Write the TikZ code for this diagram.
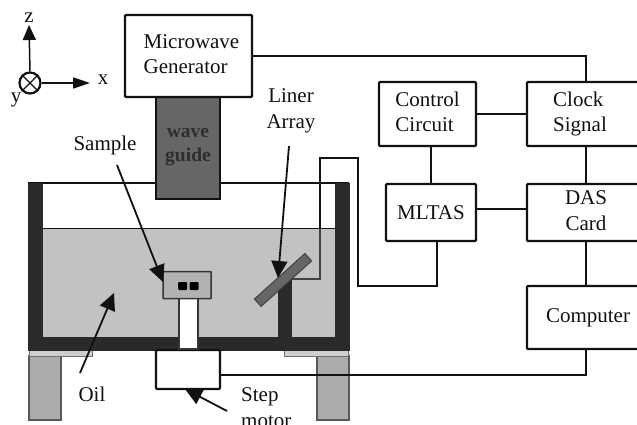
\documentclass[tikz,border=0pt]{standalone}
\usepackage{fontspec}
\setmainfont{Liberation Serif}
\usetikzlibrary{arrows.meta}
\definecolor{tankdark}{HTML}{2A2A2A}
\definecolor{oilgray}{HTML}{C2C2C2}
\definecolor{guidegray}{HTML}{666666}
\definecolor{samplegray}{HTML}{B2B2B2}
\definecolor{leggray}{HTML}{ABABAB}
\definecolor{inkblack}{HTML}{111111}
\definecolor{guidetextgray}{HTML}{2E2E2E}
\tikzset{
  x=1pt,y=-1pt,
  lbl/.style={font=\fontsize{21}{26}\selectfont,text=inkblack,inner sep=0pt,align=center},
  ctrlbox/.style={draw=inkblack,line width=2.4pt,rounded corners=1pt,fill=white,inner sep=0pt,
    font=\fontsize{21}{25.5}\selectfont,text=inkblack,align=center},
  wire/.style={draw=inkblack,line width=2.2pt},
  thinwire/.style={draw=inkblack,line width=1.6pt},
  pointer/.style={draw=inkblack,line width=1.8pt,-{Triangle[length=17pt,width=16pt]}},
  zaxis/.style={draw=inkblack,line width=1.5pt,-{Triangle[length=15pt,width=13pt]}},
  xaxis/.style={draw=inkblack,line width=1.5pt,-{Triangle[length=17pt,width=11pt]}},
  wall/.style={fill=tankdark,draw=tankdark,line width=.6pt},
  leg/.style={fill=leggray,draw=inkblack!70,line width=1.2pt},
  strip/.style={fill=oilgray!80!white,draw=inkblack!60,line width=.8pt},
}
\begin{document}
\begin{tikzpicture}
\useasboundingbox (0,0) rectangle (637,425);
\clip (0,0) rectangle (637,425);
\fill[white] (0,0) rectangle (637,425);
% oil and tank
\fill[oilgray] (42,228) rectangle (335,337);
\draw[inkblack,line width=1pt] (42,228) -- (335,228);
\draw[inkblack,line width=2pt] (28,183) -- (349,183);
% legs
\draw[leg] (29,356) rectangle (61,420);
\draw[leg] (317,356) rectangle (349,420);
\draw[strip] (29,350) rectangle (92,356);
\draw[strip] (284,350) rectangle (348,356);
% walls
\draw[wall] (28,183) rectangle (42,337);
\draw[wall] (335,183) rectangle (349,337);
\draw[wall] (28,337) rectangle (349,350);
\draw[wall] (278,280) rectangle (291,337);
% wave guide
\node[draw=inkblack,line width=1.5pt,fill=guidegray,minimum width=64pt,minimum height=102pt,inner sep=0pt] (guide) at (188,148) {};
\node[lbl,font=\fontsize{19.5}{23.5}\selectfont\bfseries,text=guidetextgray] (guidetext) at (188,147) {wave\\guide};
% boxes
\node[ctrlbox,minimum width=127pt,minimum height=82pt] (mw) at (188.5,56) {\hspace*{6pt}\begin{tabular}{@{}l@{}}Microwave\\Generator\end{tabular}};
\node[ctrlbox,minimum width=97pt,minimum height=64pt] (ctrl) at (427.5,114) {\begin{tabular}{@{}l@{}}Control\\Circuit\end{tabular}};
\node[ctrlbox,minimum width=118pt,minimum height=64pt] (clock) at (586,114) {\hspace*{-12pt}\raisebox{5pt}{\begin{tabular}{@{}l@{}}Clock\\Signal\end{tabular}}};
\node[ctrlbox,minimum width=90pt,minimum height=57pt] (mltas) at (431,212.5) {MLTAS};
\node[ctrlbox,minimum width=118pt,minimum height=57pt] (das) at (586,212.5) {\raisebox{1pt}{\begin{tabular}{@{}c@{}}DAS\\Card\end{tabular}}};
\node[ctrlbox,minimum width=118pt,minimum height=63pt] (comp) at (586,317.5) {\hspace*{4pt}Computer};
\node[ctrlbox,minimum width=64pt,minimum height=39pt] (motor) at (188,369.5) {};
% sample
\node[draw=inkblack!85,line width=1.3pt,fill=white,minimum width=19pt,minimum height=52pt,inner sep=0pt] (post) at (188.5,323) {};
\node[draw=inkblack!85,line width=1.5pt,fill=samplegray,rounded corners=.5pt,minimum width=48pt,minimum height=27pt,inner sep=0pt] (sample) at (187,285) {};
\node[fill=black,minimum width=9pt,minimum height=8pt,inner sep=0pt,rounded corners=1pt] (dotA) at (182.5,286) {};
\node[fill=black,minimum width=9pt,minimum height=8pt,inner sep=0pt,rounded corners=1pt] (dotB) at (194,286) {};
% wires
\coordinate (arraytap) at (291,279);
\coordinate (w1) at (320,279);
\coordinate (w2) at (320,158);
\coordinate (w3) at (358,158);
\coordinate (w4) at (358,286);
\coordinate (w5) at (437,286);
\draw[thinwire,inkblack!80] (arraytap) -- (w1) -- (320,228);
\draw[thinwire] (320,228) -- (w2) -- (w3) -- (w4) -- (w5) -- (w5 |- mltas.south);
% array
\draw[fill=guidegray,draw=inkblack!80,line width=1pt,rotate around={42:(283,280)}] (249,275) rectangle (317,285);
% connections
\draw[wire] (mw.east |- 0,56) -- (586,56) -- (clock.north);
\draw[thinwire] (ctrl.east) -- (clock.west);
\draw[wire] (431,146) -- (mltas.north);
\draw[thinwire] (mltas.east |- 0,209) -- (das.west |- 0,209);
\draw[wire] (clock.south) -- (das.north);
\draw[wire] (das.south) -- (comp.north);
\draw[thinwire] (comp.south) -- (586,375) -- (motor.east |- 0,375);
% axes
\node[circle,draw=inkblack,line width=2.2pt,minimum size=21pt,inner sep=0pt] (origin) at (30,83) {};
\draw[inkblack,line width=1.3pt] (origin.north west) -- (origin.south east) (origin.north east) -- (origin.south west);
\coordinate (ztip) at (29,25);
\coordinate (xtip) at (90,83);
\draw[zaxis] (origin.north) -- (ztip);
\draw[xaxis] (origin.east) -- (xtip);
\node[lbl] (zlab) at (29,18) {z};
\node[lbl] (xlab) at (103,80) {x};
\node[lbl] (ylab) at (16,100) {y};
% labels & pointers
\node[lbl] (samplelab) at (105,145) {Sample};
\node[lbl] (linerlab) at (291,111) {Liner\\Array};
\node[lbl] (oillab) at (92,394) {Oil};
\node[lbl,anchor=north west,align=left] (steplab) at (241,387) {Step\\motor};
\coordinate (sampletail) at (117,165);
\coordinate (arraytail) at (289,146);
\coordinate (oiltail) at (80,373);
\coordinate (motortail) at (227,411);
\draw[pointer] (sampletail) -- (163,282);
\draw[pointer] (arraytail) -- (278,278);
\draw[pointer] (oiltail) -- (114,293);
\draw[pointer] (motortail) -- (185,389);
\end{tikzpicture}
\end{document}
